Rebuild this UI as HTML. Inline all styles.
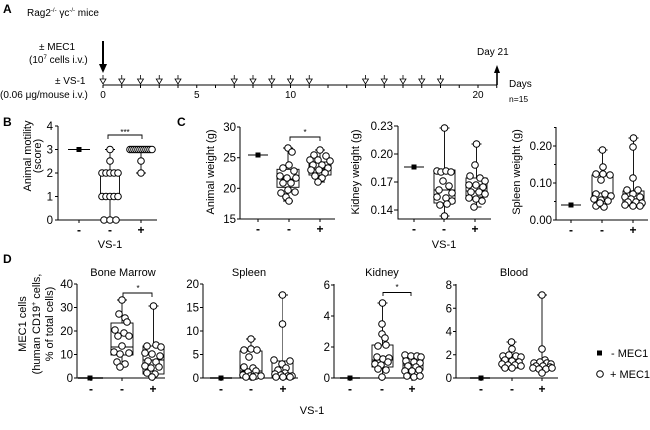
<!DOCTYPE html>
<html><head><meta charset="utf-8">
<style>
html,body{margin:0;padding:0;background:#fff;}
svg{display:block;font-family:"Liberation Sans",Arial,sans-serif;}
.c{fill:#fff;stroke:#000;stroke-width:1}
.c circle{r:3.3px}
.b{fill:none;stroke:#000;stroke-width:0.9}
.ax{stroke:#000;stroke-width:1;fill:none}
.tl{font-size:11.5px;text-anchor:end}
.cat{font-size:12px;text-anchor:middle;font-weight:bold}
.lb{font-size:11px;text-anchor:middle}
</style></head><body>
<svg width="650" height="430" viewBox="0 0 650 430" xmlns="http://www.w3.org/2000/svg">
<!-- ===== Panel A ===== -->
<text x="3" y="13" font-size="12" font-weight="bold">A</text>
<text x="27" y="16" font-size="10">Rag2<tspan font-size="6" dy="-4">-/-</tspan><tspan dy="4"> γc</tspan><tspan font-size="6" dy="-4">-/-</tspan><tspan dy="4"> mice</tspan></text>
<text x="39" y="50" font-size="10">± MEC1</text>
<text x="29" y="63" font-size="10">(10<tspan font-size="6" dy="-4">7</tspan><tspan dy="4"> cells i.v.)</tspan></text>
<text x="55" y="84" font-size="10">± VS-1</text>
<text x="0" y="98" font-size="10">(0.06 μg/mouse i.v.)</text>
<line x1="103" y1="41" x2="103" y2="66" stroke="#000" stroke-width="2"/>
<polygon points="99,64 107,64 103,73" fill="#000"/>
<line x1="103" y1="85" x2="497" y2="85" class="ax"/>
<g stroke="#000" stroke-width="1">
<line x1="103" y1="85" x2="103" y2="88"/><line x1="121.75" y1="85" x2="121.75" y2="88"/><line x1="140.5" y1="85" x2="140.5" y2="88"/><line x1="159.25" y1="85" x2="159.25" y2="88"/><line x1="178" y1="85" x2="178" y2="88"/><line x1="196.75" y1="85" x2="196.75" y2="88"/><line x1="215.5" y1="85" x2="215.5" y2="88"/><line x1="234.25" y1="85" x2="234.25" y2="88"/><line x1="253" y1="85" x2="253" y2="88"/><line x1="271.75" y1="85" x2="271.75" y2="88"/><line x1="290.5" y1="85" x2="290.5" y2="88"/><line x1="309.25" y1="85" x2="309.25" y2="88"/><line x1="328" y1="85" x2="328" y2="88"/><line x1="346.75" y1="85" x2="346.75" y2="88"/><line x1="365.5" y1="85" x2="365.5" y2="88"/><line x1="384.25" y1="85" x2="384.25" y2="88"/><line x1="403" y1="85" x2="403" y2="88"/><line x1="421.75" y1="85" x2="421.75" y2="88"/><line x1="440.5" y1="85" x2="440.5" y2="88"/><line x1="459.25" y1="85" x2="459.25" y2="88"/><line x1="478" y1="85" x2="478" y2="88"/><line x1="496.75" y1="85" x2="496.75" y2="88"/>
</g>
<g fill="#fff" stroke="#000" stroke-width="0.8">
<path d="M103,75V79M100,79H106L103,84Z"/><path d="M121.75,75V79M118.75,79H124.75L121.75,84Z"/><path d="M140.5,75V79M137.5,79H143.5L140.5,84Z"/><path d="M159.25,75V79M156.25,79H162.25L159.25,84Z"/><path d="M178,75V79M175,79H181L178,84Z"/>
<path d="M234.25,75V79M231.25,79H237.25L234.25,84Z"/><path d="M253,75V79M250,79H256L253,84Z"/><path d="M271.75,75V79M268.75,79H274.75L271.75,84Z"/><path d="M290.5,75V79M287.5,79H293.5L290.5,84Z"/><path d="M309.25,75V79M306.25,79H312.25L309.25,84Z"/>
<path d="M365.5,75V79M362.5,79H368.5L365.5,84Z"/><path d="M384.25,75V79M381.25,79H387.25L384.25,84Z"/><path d="M403,75V79M400,79H406L403,84Z"/><path d="M421.75,75V79M418.75,79H424.75L421.75,84Z"/><path d="M440.5,75V79M437.5,79H443.5L440.5,84Z"/>
</g>
<text x="103" y="98" font-size="10" text-anchor="middle">0</text>
<text x="196.75" y="98" font-size="10" text-anchor="middle">5</text>
<text x="290.5" y="98" font-size="10" text-anchor="middle">10</text>
<text x="478" y="98" font-size="10" text-anchor="middle">20</text>
<line x1="497" y1="85" x2="497" y2="72" stroke="#000" stroke-width="1.6"/>
<polygon points="494,73 500,73 497,65" fill="#000"/>
<text x="477" y="55" font-size="10">Day 21</text>
<text x="509" y="87" font-size="10">Days</text>
<text x="509" y="102" font-size="8.5">n=15</text>

<!-- ===== Panel B ===== -->
<text x="3" y="126" font-size="12" font-weight="bold">B</text>
<path class="ax" d="M58,126V220H157"/>
<g stroke="#000"><line x1="55" y1="220" x2="58" y2="220"/><line x1="55" y1="196.5" x2="58" y2="196.5"/><line x1="55" y1="173" x2="58" y2="173"/><line x1="55" y1="149.5" x2="58" y2="149.5"/><line x1="55" y1="126" x2="58" y2="126"/>
<line x1="79" y1="220" x2="79" y2="223"/><line x1="110" y1="220" x2="110" y2="223"/><line x1="141" y1="220" x2="141" y2="223"/></g>
<text class="tl" x="53" y="224">0</text><text class="tl" x="53" y="200.5">1</text><text class="tl" x="53" y="177">2</text><text class="tl" x="53" y="153.5">3</text><text class="tl" x="53" y="130">4</text>
<text class="cat" x="79" y="234">-</text><text class="cat" x="110" y="234">-</text><text class="cat" x="141" y="234">+</text>
<text class="lb" x="110" y="248">VS-1</text>
<text transform="translate(31,156) rotate(-90)" class="lb">Animal motility</text>
<text transform="translate(41,156) rotate(-90)" class="lb">(score)</text>
<line x1="68" y1="149.5" x2="90" y2="149.5" stroke="#000" stroke-width="1"/><rect x="76.5" y="147" width="5" height="5" fill="#000"/>
<g class="b"><rect x="100.5" y="173" width="19" height="23.5"/><path d="M110,173V149.5M105,149.5H115M110,196.5V220M105,220H115"/>
<path d="M131,149.5H151M141,149.5V173M136,173H146"/></g>
<g class="c">
<circle cx="104" cy="220" r="3.3"/><circle cx="110" cy="220" r="3.3"/><circle cx="116" cy="220" r="3.3"/>
<circle cx="102" cy="196.5" r="3.3"/><circle cx="106" cy="196.5" r="3.3"/><circle cx="110" cy="196.5" r="3.3"/><circle cx="114" cy="196.5" r="3.3"/><circle cx="118" cy="196.5" r="3.3"/>
<circle cx="102" cy="173" r="3.3"/><circle cx="106" cy="173" r="3.3"/><circle cx="110" cy="173" r="3.3"/><circle cx="114" cy="173" r="3.3"/><circle cx="118" cy="173" r="3.3"/>
<circle cx="110" cy="161" r="3.3"/><circle cx="110" cy="149.5" r="3.3"/>
<circle cx="130" cy="149.5" r="3.3"/><circle cx="132" cy="149.5" r="3.3"/><circle cx="134" cy="149.5" r="3.3"/><circle cx="136" cy="149.5" r="3.3"/><circle cx="138" cy="149.5" r="3.3"/><circle cx="140" cy="149.5" r="3.3"/><circle cx="142" cy="149.5" r="3.3"/><circle cx="144" cy="149.5" r="3.3"/><circle cx="146" cy="149.5" r="3.3"/><circle cx="148" cy="149.5" r="3.3"/><circle cx="150" cy="149.5" r="3.3"/><circle cx="152" cy="149.5" r="3.3"/>
<circle cx="141" cy="161" r="3.3"/><circle cx="141" cy="173" r="3.3"/>
</g>
<path class="b" d="M108,139V135H142V139"/>
<text x="125" y="135" font-size="8" text-anchor="middle">***</text>

<!-- ===== Panel C ===== -->
<text x="177" y="126" font-size="12" font-weight="bold">C</text>
<!-- Animal weight -->
<path class="ax" d="M240,127V219H335"/>
<g stroke="#000"><line x1="237" y1="219" x2="240" y2="219"/><line x1="237" y1="188.3" x2="240" y2="188.3"/><line x1="237" y1="157.7" x2="240" y2="157.7"/><line x1="237" y1="127" x2="240" y2="127"/>
<line x1="258" y1="219" x2="258" y2="222"/><line x1="289" y1="219" x2="289" y2="222"/><line x1="320" y1="219" x2="320" y2="222"/></g>
<text class="tl" x="236" y="223">15</text><text class="tl" x="236" y="192.3">20</text><text class="tl" x="236" y="161.7">25</text><text class="tl" x="236" y="131">30</text>
<text class="cat" x="258" y="233">-</text><text class="cat" x="289" y="233">-</text><text class="cat" x="320" y="233">+</text>
<text transform="translate(214,172) rotate(-90)" class="lb">Animal weight (g)</text>
<line x1="248" y1="155" x2="268" y2="155" stroke="#000"/><rect x="255.5" y="152.5" width="5" height="5" fill="#000"/>
<g class="b"><rect x="277" y="169.3" width="22" height="18"/><path d="M277,179H299M288,169.3V148M283,148H293M288,187.3V201M283,201H293"/>
<rect x="309" y="162" width="22" height="13"/><path d="M309,169H331M320,162V150M315,150H325M320,175V182M315,182H325"/></g>
<g class="c">
<circle cx="288" cy="148" r="3.3"/><circle cx="292" cy="152" r="3.3"/><circle cx="289" cy="165" r="3.3"/><circle cx="283" cy="168" r="3.3"/><circle cx="294" cy="171" r="3.3"/><circle cx="280" cy="176" r="3.3"/><circle cx="287" cy="178" r="3.3"/><circle cx="296" cy="178" r="3.3"/><circle cx="283" cy="183" r="3.3"/><circle cx="291" cy="183" r="3.3"/><circle cx="288" cy="190" r="3.3"/><circle cx="281" cy="193" r="3.3"/><circle cx="295" cy="192" r="3.3"/><circle cx="286" cy="197" r="3.3"/><circle cx="289" cy="201" r="3.3"/>
<circle cx="320" cy="150" r="3.3"/><circle cx="314" cy="155" r="3.3"/><circle cx="326" cy="156" r="3.3"/><circle cx="310" cy="160" r="3.3"/><circle cx="318" cy="160" r="3.3"/><circle cx="330" cy="161" r="3.3"/><circle cx="313" cy="165" r="3.3"/><circle cx="322" cy="165" r="3.3"/><circle cx="328" cy="168" r="3.3"/><circle cx="311" cy="170" r="3.3"/><circle cx="319" cy="170" r="3.3"/><circle cx="325" cy="173" r="3.3"/><circle cx="315" cy="176" r="3.3"/><circle cx="322" cy="178" r="3.3"/><circle cx="318" cy="182" r="3.3"/>
</g>
<path class="b" d="M290,141V137H320V141"/>
<text x="305" y="135" font-size="8" text-anchor="middle">*</text>

<!-- Kidney weight -->
<path class="ax" d="M398,126V219H491"/>
<g stroke="#000"><line x1="394" y1="126" x2="398" y2="126"/><line x1="394" y1="154" x2="398" y2="154"/><line x1="394" y1="182" x2="398" y2="182"/><line x1="394" y1="210" x2="398" y2="210"/>
<line x1="414" y1="219" x2="414" y2="222"/><line x1="444" y1="219" x2="444" y2="222"/><line x1="475" y1="219" x2="475" y2="222"/></g>
<text class="tl" x="393" y="130">0.23</text><text class="tl" x="393" y="158">0.20</text><text class="tl" x="393" y="186">0.17</text><text class="tl" x="393" y="214">0.14</text>
<text class="cat" x="414" y="233">-</text><text class="cat" x="444" y="233">-</text><text class="cat" x="475" y="233">+</text>
<text transform="translate(359,172) rotate(-90)" class="lb">Kidney weight (g)</text>
<text class="lb" x="444" y="248">VS-1</text>
<line x1="404" y1="167" x2="424" y2="167" stroke="#000"/><rect x="411.5" y="164.5" width="5" height="5" fill="#000"/>
<g class="b"><rect x="434" y="170" width="21" height="33"/><path d="M434,190H455M444.5,170V128M439.5,128H449.5M444.5,203V216M439.5,216H449.5"/>
<rect x="466" y="178" width="21" height="19"/><path d="M466,191H487M476.5,178V144M471.5,144H481.5M476.5,197V207M471.5,207H481.5"/></g>
<g class="c">
<circle cx="444.5" cy="128" r="3.3"/><circle cx="437" cy="171" r="3.3"/><circle cx="441" cy="172" r="3.3"/><circle cx="446" cy="171" r="3.3"/><circle cx="451" cy="172" r="3.3"/><circle cx="443" cy="181" r="3.3"/><circle cx="449" cy="186" r="3.3"/><circle cx="439" cy="190" r="3.3"/><circle cx="452" cy="193" r="3.3"/><circle cx="437" cy="197" r="3.3"/><circle cx="446" cy="198" r="3.3"/><circle cx="452" cy="201" r="3.3"/><circle cx="440" cy="205" r="3.3"/><circle cx="447" cy="204" r="3.3"/><circle cx="444.5" cy="216" r="3.3"/>
<circle cx="476.5" cy="144" r="3.3"/><circle cx="475" cy="165" r="3.3"/><circle cx="470" cy="176" r="3.3"/><circle cx="480" cy="178" r="3.3"/><circle cx="485" cy="181" r="3.3"/><circle cx="469" cy="185" r="3.3"/><circle cx="476" cy="185" r="3.3"/><circle cx="483" cy="187" r="3.3"/><circle cx="471" cy="192" r="3.3"/><circle cx="479" cy="192" r="3.3"/><circle cx="485" cy="194" r="3.3"/><circle cx="469" cy="198" r="3.3"/><circle cx="476" cy="199" r="3.3"/><circle cx="482" cy="201" r="3.3"/><circle cx="474" cy="207" r="3.3"/>
</g>

<!-- Spleen weight -->
<path class="ax" d="M556,127V220H648"/>
<g stroke="#000"><line x1="553" y1="220" x2="556" y2="220"/><line x1="553" y1="183" x2="556" y2="183"/><line x1="553" y1="146" x2="556" y2="146"/><line x1="554" y1="201.5" x2="556" y2="201.5"/><line x1="554" y1="164.5" x2="556" y2="164.5"/><line x1="554" y1="127.5" x2="556" y2="127.5"/>
<line x1="571" y1="220" x2="571" y2="223"/><line x1="602" y1="220" x2="602" y2="223"/><line x1="633" y1="220" x2="633" y2="223"/></g>
<text class="tl" x="552" y="224">0.00</text><text class="tl" x="552" y="187">0.10</text><text class="tl" x="552" y="150">0.20</text>
<text class="cat" x="571" y="234">-</text><text class="cat" x="602" y="234">-</text><text class="cat" x="633" y="234">+</text>
<text transform="translate(520,172) rotate(-90)" class="lb">Spleen weight (g)</text>
<line x1="561" y1="205" x2="581" y2="205" stroke="#000"/><rect x="568.5" y="202.5" width="5" height="5" fill="#000"/>
<g class="b"><rect x="592" y="175" width="21" height="24"/><path d="M592,193H613M602.5,175V150M597.5,150H607.5M602.5,199V207M597.5,207H607.5"/>
<rect x="623" y="191" width="21" height="15"/><path d="M623,200H644M633.5,191V138M628.5,138H638.5M633.5,206V207"/></g>
<g class="c">
<circle cx="602.5" cy="150" r="3.3"/><circle cx="603" cy="167" r="3.3"/><circle cx="596" cy="174" r="3.3"/><circle cx="603" cy="174" r="3.3"/><circle cx="610" cy="175" r="3.3"/><circle cx="601" cy="180" r="3.3"/><circle cx="596" cy="194" r="3.3"/><circle cx="605" cy="194" r="3.3"/><circle cx="611" cy="196" r="3.3"/><circle cx="594" cy="199" r="3.3"/><circle cx="601" cy="200" r="3.3"/><circle cx="608" cy="201" r="3.3"/><circle cx="596" cy="206" r="3.3"/><circle cx="604" cy="207" r="3.3"/><circle cx="600" cy="203" r="3.3"/>
<circle cx="633.5" cy="138" r="3.3"/><circle cx="633" cy="147" r="3.3"/><circle cx="633" cy="178" r="3.3"/><circle cx="627" cy="190" r="3.3"/><circle cx="638" cy="190" r="3.3"/><circle cx="633" cy="194" r="3.3"/><circle cx="625" cy="197" r="3.3"/><circle cx="631" cy="199" r="3.3"/><circle cx="640" cy="197" r="3.3"/><circle cx="628" cy="202" r="3.3"/><circle cx="636" cy="202" r="3.3"/><circle cx="642" cy="203" r="3.3"/><circle cx="625" cy="205" r="3.3"/><circle cx="633" cy="206" r="3.3"/><circle cx="640" cy="206" r="3.3"/>
</g>

<!-- ===== Panel D ===== -->
<text x="3" y="263" font-size="12" font-weight="bold">D</text>
<text class="lb" x="123" y="276">Bone Marrow</text>
<text class="lb" x="249" y="276">Spleen</text>
<text class="lb" x="382" y="276">Kidney</text>
<text class="lb" x="514" y="276">Blood</text>
<text transform="translate(26,324) rotate(-90)" class="lb">MEC1 cells</text>
<text transform="translate(40,324) rotate(-90)" class="lb">(human CD19<tspan font-size="7" dy="-4">+</tspan><tspan dy="4"> cells,</tspan></text>
<text transform="translate(53,324) rotate(-90)" class="lb">% of total cells)</text>

<!-- Bone marrow -->
<path class="ax" d="M77,284V378H165"/>
<g stroke="#000"><line x1="74" y1="378" x2="77" y2="378"/><line x1="74" y1="354.5" x2="77" y2="354.5"/><line x1="74" y1="331" x2="77" y2="331"/><line x1="74" y1="307.5" x2="77" y2="307.5"/><line x1="74" y1="284" x2="77" y2="284"/>
<line x1="91" y1="378" x2="91" y2="381"/><line x1="122" y1="378" x2="122" y2="381"/><line x1="153" y1="378" x2="153" y2="381"/></g>
<text class="tl" x="73" y="382">0</text><text class="tl" x="73" y="358.5">10</text><text class="tl" x="73" y="335">20</text><text class="tl" x="73" y="311.5">30</text><text class="tl" x="73" y="288">40</text>
<text class="cat" x="91" y="393">-</text><text class="cat" x="122" y="393">-</text><text class="cat" x="153" y="393">+</text>
<line x1="78" y1="378" x2="103" y2="378" stroke="#000" stroke-width="1.5"/><rect x="87.5" y="375.5" width="5" height="5" fill="#000"/>
<g class="b"><rect x="111" y="323" width="22" height="32"/><path d="M111,347H133M122,323V300M117,300H127M122,355V368"/>
<rect x="143" y="346" width="21" height="28"/><path d="M143,360H164M153.5,346V306M148.5,306H158.5M153.5,374V377"/></g>
<g class="c">
<circle cx="122" cy="300" r="3.3"/><circle cx="119" cy="314" r="3.3"/><circle cx="125" cy="318" r="3.3"/><circle cx="127" cy="322" r="3.3"/><circle cx="115" cy="330" r="3.3"/><circle cx="124" cy="333" r="3.3"/><circle cx="118" cy="336" r="3.3"/><circle cx="129" cy="336" r="3.3"/><circle cx="122" cy="346" r="3.3"/><circle cx="114" cy="352" r="3.3"/><circle cx="120" cy="354" r="3.3"/><circle cx="129" cy="353" r="3.3"/><circle cx="117" cy="362" r="3.3"/><circle cx="125" cy="364" r="3.3"/><circle cx="120" cy="367" r="3.3"/>
<circle cx="153.5" cy="306" r="3.3"/><circle cx="147" cy="346" r="3.3"/><circle cx="156" cy="345" r="3.3"/><circle cx="161" cy="347" r="3.3"/><circle cx="145" cy="353" r="3.3"/><circle cx="152" cy="354" r="3.3"/><circle cx="160" cy="356" r="3.3"/><circle cx="148" cy="361" r="3.3"/><circle cx="156" cy="362" r="3.3"/><circle cx="145" cy="366" r="3.3"/><circle cx="151" cy="368" r="3.3"/><circle cx="159" cy="367" r="3.3"/><circle cx="147" cy="373" r="3.3"/><circle cx="155" cy="374" r="3.3"/><circle cx="152" cy="377" r="3.3"/>
</g>
<path class="b" d="M123,297V293H152V297"/>
<text x="138" y="291" font-size="8" text-anchor="middle">*</text>

<!-- Spleen D -->
<path class="ax" d="M203,284V378H298"/>
<g stroke="#000"><line x1="200" y1="378" x2="203" y2="378"/><line x1="200" y1="354.5" x2="203" y2="354.5"/><line x1="200" y1="331" x2="203" y2="331"/><line x1="200" y1="307.5" x2="203" y2="307.5"/><line x1="200" y1="284" x2="203" y2="284"/>
<line x1="221" y1="378" x2="221" y2="381"/><line x1="251" y1="378" x2="251" y2="381"/><line x1="283" y1="378" x2="283" y2="381"/></g>
<text class="tl" x="199" y="382">0</text><text class="tl" x="199" y="358.5">5</text><text class="tl" x="199" y="335">10</text><text class="tl" x="199" y="311.5">15</text><text class="tl" x="199" y="288">20</text>
<text class="cat" x="221" y="393">-</text><text class="cat" x="251" y="393">-</text><text class="cat" x="283" y="393">+</text>
<line x1="210" y1="378" x2="232" y2="378" stroke="#000" stroke-width="1.5"/><rect x="218.5" y="375.5" width="5" height="5" fill="#000"/>
<g class="b"><rect x="240" y="351" width="22" height="26"/><path d="M240,371H262M251,351V339M246,339H256"/>
<rect x="272" y="361" width="21" height="16"/><path d="M272,375H293M278,295H288"/></g>
<line x1="282.5" y1="295" x2="282.5" y2="361" stroke="#777" stroke-width="1"/>
<g class="c">
<circle cx="251" cy="339" r="3.3"/><circle cx="244" cy="350" r="3.3"/><circle cx="251" cy="349" r="3.3"/><circle cx="257" cy="350" r="3.3"/><circle cx="249" cy="357" r="3.3"/><circle cx="244" cy="367" r="3.3"/><circle cx="253" cy="368" r="3.3"/><circle cx="248" cy="372" r="3.3"/><circle cx="256" cy="371" r="3.3"/><circle cx="243" cy="375" r="3.3"/><circle cx="250" cy="376" r="3.3"/><circle cx="256" cy="376" r="3.3"/><circle cx="261" cy="376" r="3.3"/><circle cx="246" cy="377" r="3.3"/><circle cx="253" cy="377" r="3.3"/>
<circle cx="282.5" cy="295" r="3.3"/><circle cx="282.5" cy="324" r="3.3"/><circle cx="274" cy="360" r="3.3"/><circle cx="290" cy="361" r="3.3"/><circle cx="282" cy="364" r="3.3"/><circle cx="286" cy="368" r="3.3"/><circle cx="278" cy="370" r="3.3"/><circle cx="285" cy="373" r="3.3"/><circle cx="275" cy="374" r="3.3"/><circle cx="281" cy="375" r="3.3"/><circle cx="288" cy="376" r="3.3"/><circle cx="292" cy="376" r="3.3"/><circle cx="276" cy="377" r="3.3"/><circle cx="283" cy="377" r="3.3"/><circle cx="290" cy="377" r="3.3"/>
</g>
<text class="lb" x="312" y="414">VS-1</text>

<!-- Kidney D -->
<path class="ax" d="M334,284V378H423"/>
<g stroke="#000"><line x1="331" y1="378" x2="334" y2="378"/><line x1="331" y1="347" x2="334" y2="347"/><line x1="331" y1="316" x2="334" y2="316"/><line x1="331" y1="285" x2="334" y2="285"/>
<line x1="350" y1="378" x2="350" y2="381"/><line x1="382" y1="378" x2="382" y2="381"/><line x1="412" y1="378" x2="412" y2="381"/></g>
<text class="tl" x="330" y="382">0</text><text class="tl" x="330" y="351">2</text><text class="tl" x="330" y="320">4</text><text class="tl" x="330" y="289">6</text>
<text class="cat" x="350" y="393">-</text><text class="cat" x="382" y="393">-</text><text class="cat" x="412" y="393">+</text>
<line x1="340" y1="378" x2="360" y2="378" stroke="#000" stroke-width="1.5"/><rect x="347.5" y="375.5" width="5" height="5" fill="#000"/>
<g class="b"><rect x="372" y="345" width="21" height="22"/><path d="M372,360H393M382.5,345V303M377.5,303H387.5M382.5,367V378"/>
<rect x="403" y="356" width="20" height="14"/><path d="M403,365H423M413,370V378"/></g>
<g class="c">
<circle cx="382.5" cy="303" r="3.3"/><circle cx="382" cy="324" r="3.3"/><circle cx="382" cy="334" r="3.3"/><circle cx="385" cy="338" r="3.3"/><circle cx="378" cy="346" r="3.3"/><circle cx="386" cy="345" r="3.3"/><circle cx="377" cy="357" r="3.3"/><circle cx="383" cy="359" r="3.3"/><circle cx="389" cy="358" r="3.3"/><circle cx="375" cy="364" r="3.3"/><circle cx="381" cy="365" r="3.3"/><circle cx="388" cy="362" r="3.3"/><circle cx="378" cy="369" r="3.3"/><circle cx="386" cy="370" r="3.3"/><circle cx="382" cy="377" r="3.3"/>
<circle cx="405" cy="355" r="3.3"/><circle cx="411" cy="356" r="3.3"/><circle cx="417" cy="356" r="3.3"/><circle cx="421" cy="357" r="3.3"/><circle cx="406" cy="361" r="3.3"/><circle cx="414" cy="362" r="3.3"/><circle cx="420" cy="363" r="3.3"/><circle cx="408" cy="366" r="3.3"/><circle cx="416" cy="367" r="3.3"/><circle cx="405" cy="371" r="3.3"/><circle cx="412" cy="371" r="3.3"/><circle cx="419" cy="370" r="3.3"/><circle cx="407" cy="376" r="3.3"/><circle cx="414" cy="377" r="3.3"/><circle cx="420" cy="376" r="3.3"/>
</g>
<path class="b" d="M383,296V292.5H411V296"/>
<text x="397" y="290" font-size="8" text-anchor="middle">*</text>

<!-- Blood -->
<path class="ax" d="M456,284V378H558"/>
<g stroke="#000"><line x1="453" y1="378" x2="456" y2="378"/><line x1="453" y1="354.75" x2="456" y2="354.75"/><line x1="453" y1="331.5" x2="456" y2="331.5"/><line x1="453" y1="308.25" x2="456" y2="308.25"/><line x1="453" y1="285" x2="456" y2="285"/>
<line x1="481" y1="378" x2="481" y2="381"/><line x1="512" y1="378" x2="512" y2="381"/><line x1="542" y1="378" x2="542" y2="381"/></g>
<text class="tl" x="452" y="382">0</text><text class="tl" x="452" y="358.75">2</text><text class="tl" x="452" y="335.5">4</text><text class="tl" x="452" y="312.25">6</text><text class="tl" x="452" y="289">8</text>
<text class="cat" x="481" y="393">-</text><text class="cat" x="512" y="393">-</text><text class="cat" x="542" y="393">+</text>
<line x1="470" y1="378" x2="490" y2="378" stroke="#000" stroke-width="1.5"/><rect x="478.5" y="375.5" width="5" height="5" fill="#000"/>
<g class="b"><rect x="501" y="355" width="21" height="13"/><path d="M501,361H522M511.5,355V342M506.5,342H516.5"/>
<rect x="531" y="362" width="22" height="7"/><path d="M531,365H553M542,362V295M537,295H547M542,369V373"/></g>
<g class="c">
<circle cx="511.5" cy="342" r="3.3"/><circle cx="512" cy="349" r="3.3"/><circle cx="503" cy="356" r="3.3"/><circle cx="509" cy="355" r="3.3"/><circle cx="516" cy="356" r="3.3"/><circle cx="521" cy="357" r="3.3"/><circle cx="505" cy="360" r="3.3"/><circle cx="512" cy="361" r="3.3"/><circle cx="519" cy="362" r="3.3"/><circle cx="502" cy="364" r="3.3"/><circle cx="508" cy="365" r="3.3"/><circle cx="515" cy="365" r="3.3"/><circle cx="521" cy="366" r="3.3"/><circle cx="505" cy="368" r="3.3"/><circle cx="512" cy="368" r="3.3"/>
<circle cx="542" cy="295" r="3.3"/><circle cx="542" cy="349" r="3.3"/><circle cx="545" cy="360" r="3.3"/><circle cx="534" cy="363" r="3.3"/><circle cx="540" cy="362" r="3.3"/><circle cx="547" cy="363" r="3.3"/><circle cx="551" cy="364" r="3.3"/><circle cx="536" cy="366" r="3.3"/><circle cx="543" cy="366" r="3.3"/><circle cx="550" cy="367" r="3.3"/><circle cx="533" cy="368" r="3.3"/><circle cx="539" cy="369" r="3.3"/><circle cx="546" cy="369" r="3.3"/><circle cx="552" cy="368" r="3.3"/><circle cx="542" cy="373" r="3.3"/>
</g>

<!-- Legend -->
<rect x="597" y="350.5" width="5" height="5" fill="#000"/>
<text x="611" y="357" font-size="11">- MEC1</text>
<circle cx="600" cy="374" r="3.3" fill="#fff" stroke="#000" stroke-width="1"/>
<text x="610" y="378" font-size="11">+ MEC1</text>
</svg>
</body></html>
